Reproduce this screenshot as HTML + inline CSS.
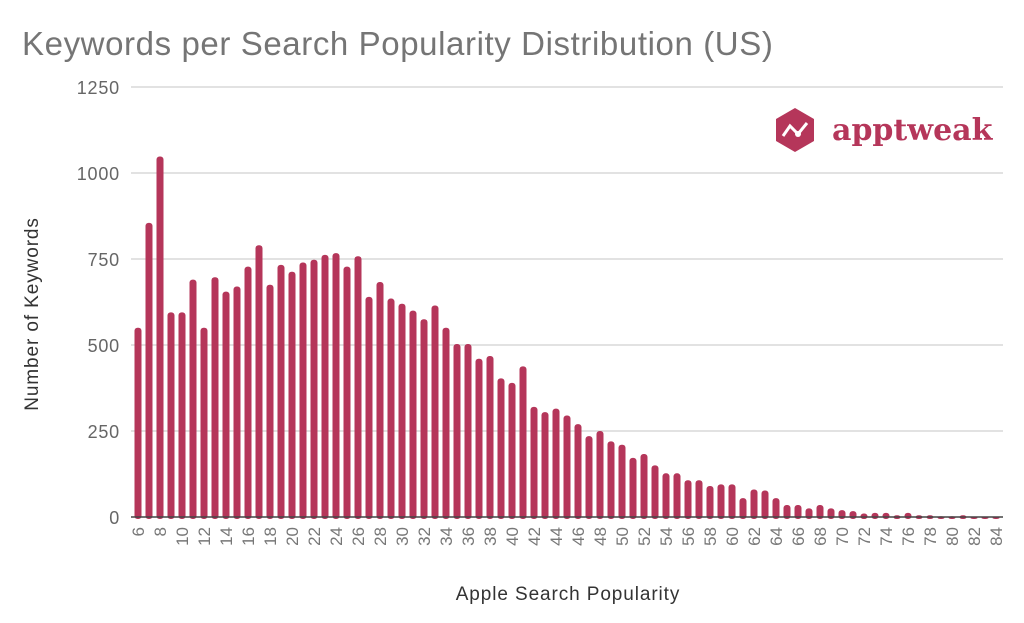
<!DOCTYPE html>
<html><head><meta charset="utf-8"><style>
html,body{margin:0;padding:0;background:#fff;}
svg{display:block;font-family:"Liberation Sans",sans-serif;}
</style></head><body>
<svg width="1024" height="623" viewBox="0 0 1024 623">
<text x="22" y="55" font-size="33" fill="#757575" letter-spacing="0.6">Keywords per Search Popularity Distribution (US)</text>
<g stroke="#d9d9d9" stroke-width="1.5">
<line x1="131" x2="1003" y1="87" y2="87"/>
<line x1="131" x2="1003" y1="173" y2="173"/>
<line x1="131" x2="1003" y1="259" y2="259"/>
<line x1="131" x2="1003" y1="345" y2="345"/>
<line x1="131" x2="1003" y1="431" y2="431"/>
</g>
<g font-size="18" fill="#666" text-anchor="end" letter-spacing="0.8">
<text x="120" y="94">1250</text>
<text x="120" y="180">1000</text>
<text x="120" y="266">750</text>
<text x="120" y="352">500</text>
<text x="120" y="438">250</text>
<text x="120" y="524">0</text>
</g>
<text transform="translate(38,314) rotate(-90)" font-size="19" fill="#333" text-anchor="middle" letter-spacing="0.9">Number of Keywords</text>
<text x="568" y="600" font-size="19" fill="#333" text-anchor="middle" letter-spacing="0.9">Apple Search Popularity</text>
<g id="bars" fill="#b5365a"></g>
<line x1="131" x2="1003" y1="517" y2="517" stroke="#444" stroke-width="1.5"/>
<g id="xl" font-size="17" fill="#777"></g>
<g transform="translate(795,130)">
<polygon points="0,-22 19,-11 19,11 0,22 -19,11 -19,-11" fill="#b5365a"/>
<polyline points="-12,6 -5,-4 3,4 12,-7" fill="none" stroke="#fff" stroke-width="3"/>
<circle cx="3" cy="4" r="3" fill="#fff"/>
</g>
<text x="832" y="140" font-family="'DejaVu Serif','Liberation Serif',serif" font-weight="bold" font-size="30" fill="#b5365a">apptweak</text>
</svg>
<script>
var v=[550,855,1048,595,595,690,550,697,655,670,728,790,675,733,713,740,748,762,767,728,758,640,683,635,620,600,575,615,550,503,503,460,468,403,390,438,320,305,315,295,270,235,250,220,210,172,183,150,127,127,107,107,90,95,95,55,80,77,55,35,35,25,35,25,20,17,10,12,12,5,12,5,5,2,2,5,1,1,1];
var ns="http://www.w3.org/2000/svg",b=document.getElementById('bars'),xl=document.getElementById('xl');
for(var i=0;i<v.length;i++){var cx=138+i*11,h=v[i]*0.344;
var r=document.createElementNS(ns,'rect');r.setAttribute('x',cx-3.5);r.setAttribute('y',517-h);r.setAttribute('width',7);r.setAttribute('height',h+2);r.setAttribute('rx',3);b.appendChild(r);
if((i+6)%2==0){var t=document.createElementNS(ns,'text');t.setAttribute('transform','translate('+(cx+6)+',527) rotate(-90)');t.setAttribute('text-anchor','end');t.textContent=i+6;xl.appendChild(t);}}
</script>
</body></html>
